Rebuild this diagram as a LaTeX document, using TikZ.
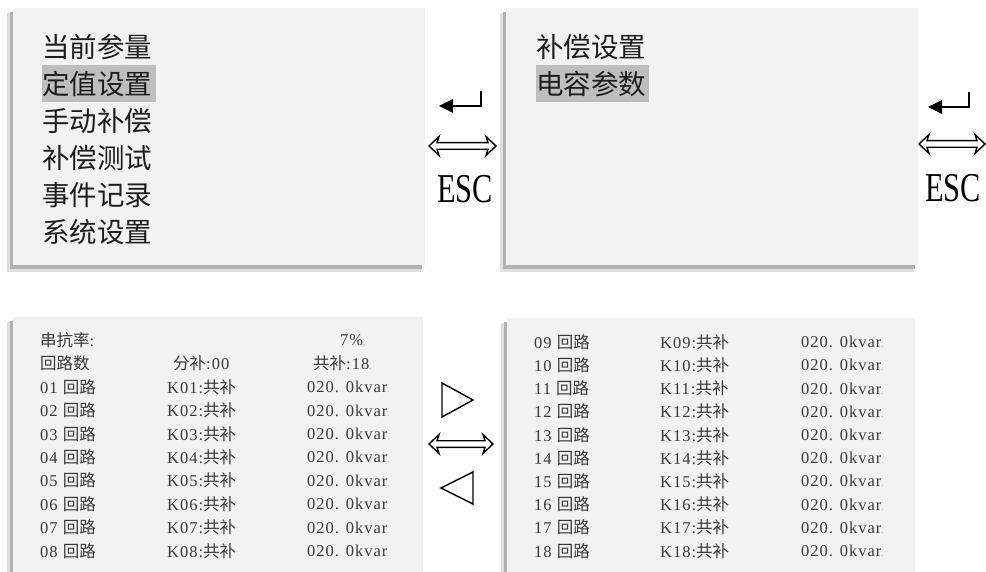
\documentclass[tikz,border=0pt]{standalone}
\usepackage{fontspec}
\setmainfont{Liberation Serif}
\newfontfamily\cjk{Noto Sans CJK SC}
\newfontfamily\rowlatin[LetterSpace=6]{Liberation Serif}
\definecolor{panelbg}{HTML}{F2F2F2}
\definecolor{hlgray}{HTML}{BEBEBE}
\definecolor{txtdark}{HTML}{1E1E1E}
\definecolor{txtrow}{HTML}{3A3A3A}
\newcommand\pmark{{\fontsize{8}{8}\selectfont\color{gray!80}.}}
\tikzset{
  shadowA/.style={fill=gray!25, draw=none},
  shadowB/.style={fill=gray!60, draw=none},
  panelfill/.style={fill=panelbg, draw=none},
  hlbox/.style={fill=hlgray, draw=none},
  menu/.style={anchor=west, inner sep=0pt, text=txtdark, font=\fontsize{27.5}{27.5}\selectfont\cjk},
  rowtext/.style={anchor=west, inner sep=0pt, text=txtrow, font=\fontsize{16.5}{16.5}\selectfont\rowlatin},
  esctext/.style={inner sep=0pt, text=black, font=\fontsize{41}{41}\selectfont},
  symline/.style={draw=black, line width=1.4pt, line join=miter},
  enterhead/.style={fill=black, draw=none},
}
\newcommand\dblarrow[3]{% xl, xr, cy
  \draw[symline] (#1,#3) -- (#1+10,#3-9.5) -- (#1+8,#3-3.3) -- (#2-8,#3-3.3) -- (#2-10,#3-9.5) -- (#2,#3)
    -- (#2-10,#3+9.5) -- (#2-8,#3+3.3) -- (#1+8,#3+3.3) -- (#1+10,#3+9.5) -- cycle;}
\newcommand\enterarrow[3]{% tip x, right x, line y
  \draw[line width=2.2pt] (#2,#3-15) -- (#2,#3) -- (#1+10,#3);
  \fill[enterhead] (#1,#3) -- (#1+14,#3-7) -- (#1+14,#3+7) -- cycle;}
\begin{document}
\begin{tikzpicture}[x=1pt,y=-1pt]
\useasboundingbox[fill=white] (0,0) rectangle (986,572);

% ---------- panels ----------
\foreach \xa/\ya/\xb/\yb/\nm in {13/8/425/265/pa, 506/8/918/265/pb, 13/317/423/575/pc, 507/318/915/575/pd}{
  \fill[shadowA] (\xa-6,\ya+5) rectangle (\xb-4,\yb+7);
  \fill[shadowB] (\xa-3.5,\ya+4) rectangle (\xb-3,\yb+4);
  \path[panelfill] (\xa,\ya) rectangle (\xb,\yb) coordinate (\nm);
}

% ---------- top-left menu ----------
\fill[hlbox] (42,65) rectangle (156,102);
\node[menu] (m1) at (42,47) {当前参量};
\node[menu] (m2) at (42,84) {定值设置};
\node[menu] (m3) at (42,121) {手动补偿};
\node[menu] (m4) at (42,158) {补偿测试};
\node[menu] (m5) at (42,195) {事件记录};
\node[menu] (m6) at (42,232) {系统设置};

% ---------- top-right menu ----------
\fill[hlbox] (536,65) rectangle (649,102);
\node[menu] (s1) at (536,47) {补偿设置};
\node[menu] (s2) at (536,84) {电容参数};

% ---------- navigation symbols ----------
\enterarrow{439}{481}{106}
\dblarrow{429}{496}{146}
\node[esctext] (esc1) at (465,189) {\scalebox{0.74}[1]{ESC}};

\enterarrow{928}{969}{107}
\dblarrow{919}{985}{144}
\node[esctext] (esc2) at (953,188) {\scalebox{0.74}[1]{ESC}};

\draw[symline] (442,383) -- (442,417) -- (473,400) -- cycle;
\dblarrow{429}{493}{444}
\draw[symline] (473,472) -- (473,504) -- (441,488) -- cycle;

% ---------- bottom-left table ----------
\node[rowtext] (h1) at (40,340) {{\cjk 串抗率}:};
\node[rowtext] (h2) at (340,340) {7\%\pmark};
\node[rowtext] (h3) at (40,363) {{\cjk 回路数}};
\node[rowtext] (h4) at (173,363) {{\cjk 分补}:00};
\node[rowtext] (h5) at (313,363) {{\cjk 共补}:18\pmark};
\foreach \n [count=\k] in {01,02,03,04,05,06,07,08}{
  \node[rowtext] (la\k) at (40,{387+(\k-1)*23.4}) {\n\ {\cjk 回路}};
  \node[rowtext] (lb\k) at (167,{387+(\k-1)*23.4}) {K\n:{\cjk 共补}};
  \node[rowtext] (lc\k) at (307,{387+(\k-1)*23.4}) {020. 0kvar\pmark};
}

% ---------- bottom-right table ----------
\foreach \n [count=\k] in {09,10,11,12,13,14,15,16,17,18}{
  \node[rowtext] (ra\k) at (534,{342+(\k-1)*23.2}) {\n\ {\cjk 回路}};
  \node[rowtext] (rb\k) at (660,{342+(\k-1)*23.2}) {K\n:{\cjk 共补}};
  \node[rowtext] (rc\k) at (801,{342+(\k-1)*23.2}) {020. 0kvar\pmark};
}
\end{tikzpicture}
\end{document}
